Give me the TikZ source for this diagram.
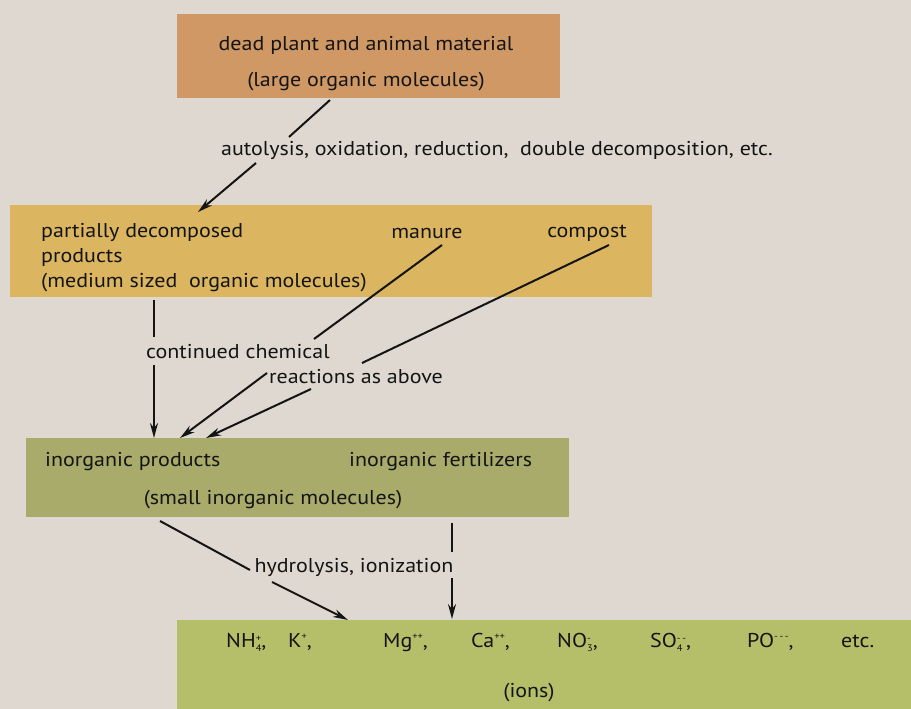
\documentclass[tikz,border=0pt]{standalone}
\usepackage{fontspec}
\setmainfont{PT Sans}[FakeStretch=1.1]
\usepackage{tikz}
\usetikzlibrary{arrows.meta}
\usetikzlibrary{positioning}

\newcommand{\ionsb}[2]{\raisebox{-0.45ex}{\fontsize{9.5}{10}\selectfont\shortstack[l]{#2\\#1}}}
\newcommand{\ionsp}[1]{\raisebox{0.75ex}{\fontsize{9.5}{10}\selectfont #1}}

\tikzset{
	>={Stealth[length=15pt, width=8pt]},
	flow/.style={black!92, line width=2pt},
	panel/.style={rectangle, inner sep=0pt, outer sep=0pt},
	txt/.style={font=\fontsize{20}{25}\selectfont, text=black!92, inner sep=0pt},
}

\begin{document}
\begin{tikzpicture}[x=1pt, y=-1pt, line cap=butt]
		
		% Colors (faded print)
		\definecolor{PaperCol}{RGB}{222,216,208}
		\definecolor{DeadCol}{RGB}{207,152,101}
		\definecolor{PartCol}{RGB}{219,181,96}
		\definecolor{InorgCol}{RGB}{168,171,106}
		\definecolor{IonCol}{RGB}{181,191,106}
		
		% page
		\fill[PaperCol] (0,0) rectangle (911,709);
		\useasboundingbox (0,0) rectangle (911,709);
		
		% --- boxes ---
		\node[panel, fill=DeadCol, minimum width=383pt, minimum height=84pt] (dead) at (368.5,56) {};
		\node[panel, fill=PartCol, minimum width=642pt, minimum height=92pt] (part) at (331,251) {};
		\node[panel, fill=InorgCol, minimum width=543pt, minimum height=79pt] (inorg) at (297.5,477.5) {};
		\node[panel, fill=IonCol, minimum width=740pt, minimum height=100pt] (ions) at (547,670) {};
		
		% --- box texts ---
		\node[txt] (deadA) at (366,45) {dead plant and animal material};
		\node[txt] (deadB) at (366,82) {(large organic molecules)};
		
		\node[txt, anchor=west, align=left] (partA) at (41,258)
		{partially decomposed\\products\\(medium sized\ \ organic molecules)};
		\node[txt] (manure) at (427,233) {manure};
		\node[txt] (compost) at (587,233) {compost};
		
		\node[txt, anchor=west] (inorgA) at (45,462) {inorganic products};
		\node[txt, anchor=west] (fert) at (349,462) {inorganic fertilizers};
		\node[txt] (inorgB) at (273,500) {(small inorganic molecules)};
		
		% ions row
		\foreach \xx/\nm/\ion in {226/nh/{NH\ionsb{4}{+},}, 288/k/{K\ionsp{+},},
			383/mg/{Mg\ionsp{++},}, 471/ca/{Ca\ionsp{++},},
			557/no/{NO\ionsb{3}{-},}, 650/so/{SO\ionsb{4}{-\,-},},
			747/po/{PO\ionsp{-\,-\,-},}, 841/etc/{etc.}}
		\node[txt, anchor=base west] (ion-\nm) at (\xx,647) {\ion};
		\node[txt] (ionlbl) at (529,693) {(ions)};
		
		% --- process labels ---
		\node[txt] (autolysis) at (497,150) {autolysis, oxidation, reduction,\ \ double decomposition, etc.};
		\node[txt] (contA) at (238,352) {continued chemical};
		\node[txt] (contB) at (356,377) {reactions as above};
		\node[txt] (hydro) at (354,567) {hydrolysis, ionization};
		
		% --- connector end points ---
		\coordinate (d1) at (330,100);  \coordinate (d2) at (289,137);
		\coordinate (d3) at (256,163);  \coordinate (d4) at (198,212);
		\coordinate (p1) at (154,300);  \coordinate (p2) at (154,337);
		\coordinate (p3) at (154,365);  \coordinate (p4) at (154,438);
		\coordinate (m1) at (442,245);  \coordinate (m2) at (314,339);
		\coordinate (m3) at (267,373);  \coordinate (m4) at (180,438);
		\coordinate (c1) at (609,245);  \coordinate (c2) at (362,363);
		\coordinate (c3) at (311,389);  \coordinate (c4) at (206,438);
		\coordinate (h1) at (160,521);  \coordinate (h2) at (250,570);
		\coordinate (h3) at (272,582);  \coordinate (h4) at (348,620);
		\coordinate (f1) at (452,523);  \coordinate (f2) at (452,552);
		\coordinate (f3) at (452,578);  \coordinate (f4) at (452,619);
		
		% dead -> partially decomposed
		\draw[flow] (d1) -- (d2);
		\draw[flow, ->] (d3) -- (d4);
		
		% partially decomposed, manure, compost -> inorganic
		\draw[flow] (p1) -- (p2);
		\draw[flow, ->] (p3) -- (p4);
		\draw[flow] (m1) -- (m2);
		\draw[flow, ->] (m3) -- (m4);
		\draw[flow] (c1) -- (c2);
		\draw[flow, ->] (c3) -- (c4);
		
		% inorganic -> ions
		\draw[flow] (h1) -- (h2);
		\draw[flow, ->] (h3) -- (h4);
		\draw[flow] (f1) -- (f2);
		\draw[flow, ->] (f3) -- (f4);
		
	\end{tikzpicture}
\end{document}
